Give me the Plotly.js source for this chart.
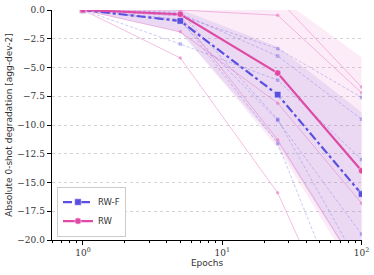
<!DOCTYPE html>
<html><head><meta charset="utf-8">
<script src="https://cdn.plot.ly/plotly-3.0.1.min.js"></script>
<style>html,body{margin:0;padding:0;background:#fff}#c{width:374px;height:275px}</style>
</head><body><div id="c"></div>
<script>
const epochs = [1, 5, 25, 100];

// Mean curves
const rwfMean = [0, -0.95, -7.36, -16.0];
const rwMean  = [0, -0.37, -5.48, -13.97];

// Shaded bands
const rwfUpper = [0, 0.05, -3.2, -8.9];
const rwfLower = [0, -1.95, -11.6, -23.1];
const rwUpper  = [0, 1.1, 1.2, -4.1];
const rwLower  = [0, -1.85, -12.0, -23.8];

// Individual runs, RW-F
const rwfRun1 = [0, -0.5, -3.36, -7.6];
const rwfRun2 = [0, -0.3, -4.0, -9.5];
const rwfRun3 = [0, -2.96, -6.1, -13.0];
const rwfRun4 = [0, -1.0, -9.6, -19.5];
const rwfRun5 = [0, -0.8, -11.6, -29.8];
const rwfRun6 = [0, -0.2, -9.5, -22.5];

// Individual runs, RW
const rwRun1 = [0, 0, -0.46, -7.2];
const rwRun2 = [0, 0.2, 1.0, -6.7];
const rwRun3 = [0, -1.9, -8.1, -16.8];
const rwRun4 = [0, -4.17, -15.9, -32.0];
const rwRun5 = [0, -0.5, -11.3, -23.0];

const BLUE = '#5a4fe0', PINK = '#df4aa6';
const BLUE_T = 'rgba(95,85,225,0.4)', PINK_T = 'rgba(228,95,185,0.5)';

function band(up, lo, color) {
  return {x: epochs.concat(epochs.slice().reverse()),
          y: up.concat(lo.slice().reverse()),
          type: 'scatter', mode: 'lines', fill: 'toself', fillcolor: color,
          line: {width: 0}, hoverinfo: 'skip', showlegend: false};
}
function run(y, color, dash, sym) {
  return {x: epochs, y: y, type: 'scatter', mode: 'lines+markers',
          line: {color: color, width: 0.8, dash: dash},
          marker: {color: color, size: 3.5, symbol: sym}, showlegend: false};
}

const traces = [
  band(rwUpper, rwLower, 'rgba(235,120,200,0.14)'),
  band(rwfUpper, rwfLower, 'rgba(125,95,215,0.13)'),
];
[rwfRun1, rwfRun2, rwfRun3, rwfRun4, rwfRun5, rwfRun6].forEach(r => traces.push(run(r, BLUE_T, '3px,2px', 'square')));
[rwRun1, rwRun2, rwRun3, rwRun4, rwRun5].forEach(r => traces.push(run(r, PINK_T, 'solid', 'circle')));
traces.push({x: epochs, y: rwfMean, type: 'scatter', mode: 'lines+markers', name: 'RW-F',
  line: {color: BLUE, width: 2.2, dash: 'dashdot'},
  marker: {color: BLUE, size: 6.5, symbol: 'square', line: {color: 'white', width: 0.5}}});
traces.push({x: epochs, y: rwMean, type: 'scatter', mode: 'lines+markers', name: 'RW',
  line: {color: PINK, width: 2.2},
  marker: {color: PINK, size: 6.5, symbol: 'circle', line: {color: 'white', width: 0.5}}});

const serif = {family: 'DejaVu Serif', size: 9, color: '#333'};
const sans = {family: 'DejaVu Sans', size: 9, color: '#333'};

const layout = {
  width: 374, height: 275,
  margin: {l: 52, r: 12, t: 10, b: 35},
  paper_bgcolor: '#fff', plot_bgcolor: '#fff',
  showlegend: true,
  legend: {x: 0.016, y: 0.015, xanchor: 'left', yanchor: 'bottom', bgcolor: 'rgba(255,255,255,0.9)',
           bordercolor: '#cccccc', borderwidth: 1, font: {family: 'DejaVu Sans', size: 8.5, color: '#333'},
           itemwidth: 30, tracegroupgap: 0},
  xaxis: {type: 'log', range: [Math.log10(0.6), 2.003],
          tickmode: 'array', tickvals: [1, 10, 100],
          ticktext: ['10<sup>0</sup>', '10<sup>1</sup>', '10<sup>2</sup>'],
          ticks: 'outside', ticklen: 4, tickwidth: 1, tickcolor: '#000',
          minor: {tickmode: 'array', tickvals: [0.6,0.7,0.8,0.9,2,3,4,5,6,7,8,9,20,30,40,50,60,70,80,90],
                  ticks: 'outside', ticklen: 2, tickcolor: '#000', showgrid: false},
          showline: true, linecolor: '#000', linewidth: 1.3, showgrid: false, zeroline: false,
          tickfont: serif,
          title: {text: 'Epochs', font: sans, standoff: 2}},
  yaxis: {range: [-20, 0], tickmode: 'linear', tick0: 0, dtick: 2.5, tickformat: '.1f',
          ticks: 'outside', ticklen: 4, tickwidth: 1, tickcolor: '#000',
          showline: true, linecolor: '#000', linewidth: 1.3, zeroline: false,
          showgrid: true, gridcolor: '#c8c8c8', gridwidth: 0.8, griddash: 'dot',
          tickfont: serif,
          title: {text: 'Absolute 0-shot degradation [agg-dev-2]', font: sans, standoff: 3}}
};

Plotly.newPlot('c', traces, layout, {displayModeBar: false, staticPlot: true});
</script></body></html>
